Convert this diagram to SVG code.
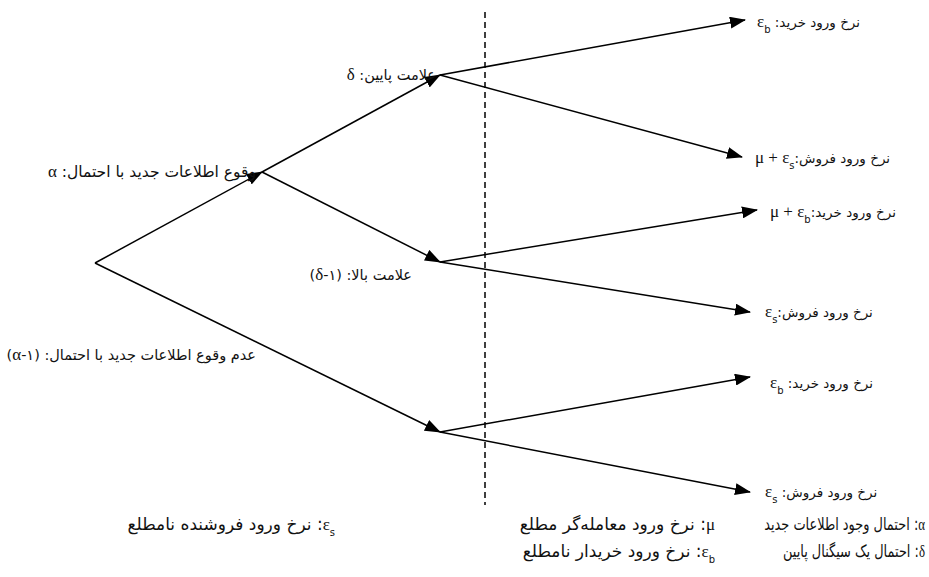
<svg xmlns="http://www.w3.org/2000/svg" width="929" height="577" viewBox="0 0 929 577">
<style>
  .ln { stroke: #000; stroke-width: 1.5; fill: none; }
  .dash { stroke: #000; stroke-width: 1.5; stroke-dasharray: 6 4; fill: none; }
  text { font-family: "DejaVu Sans", "Liberation Serif", serif; fill: #111; direction: rtl; }
  .lbl { font-size: 13.5px; }
  .big { font-size: 14.5px; }
  .leg { font-size: 17px; }
  .sub { font-size: 10px; baseline-shift: sub; }
  .g { font-family: "Liberation Serif", serif; font-size: 17px; }
</style>
<defs>
  <marker id="ah" markerWidth="16" markerHeight="12" refX="15" refY="6" orient="auto" markerUnits="userSpaceOnUse">
    <path d="M0,0 L16,6 L0,12 Z" fill="#000"/>
  </marker>
</defs>
<rect width="929" height="577" fill="#fff"/>
<g id="connectors">
  <line class="dash" x1="485" y1="12" x2="485" y2="505"/>
  <line class="ln" x1="95" y1="263" x2="262" y2="172" marker-end="url(#ah)"/>
  <line class="ln" x1="95" y1="263" x2="440" y2="432" marker-end="url(#ah)"/>
  <line class="ln" x1="262" y1="172" x2="440" y2="75" marker-end="url(#ah)"/>
  <line class="ln" x1="262" y1="172" x2="440" y2="262" marker-end="url(#ah)"/>
  <line class="ln" x1="440" y1="75" x2="745" y2="20" marker-end="url(#ah)"/>
  <line class="ln" x1="440" y1="75" x2="742" y2="157" marker-end="url(#ah)"/>
  <line class="ln" x1="440" y1="262" x2="757" y2="210" marker-end="url(#ah)"/>
  <line class="ln" x1="440" y1="262" x2="750" y2="312" marker-end="url(#ah)"/>
  <line class="ln" x1="440" y1="432" x2="750" y2="377" marker-end="url(#ah)"/>
  <line class="ln" x1="440" y1="432" x2="750" y2="492" marker-end="url(#ah)"/>
</g>
<g id="node-news">
  <text class="big" x="256" y="177" text-anchor="start" style="font-size:15.5px">وقوع اطلاعات جدید با احتمال: <tspan class="g">α</tspan></text>
</g>
<g id="node-nonews">
  <text class="big" x="256" y="360" text-anchor="start">عدم وقوع اطلاعات جدید با احتمال: (۱-<tspan class="g">α</tspan>)</text>
</g>
<g id="node-low">
  <text class="big" x="436" y="80" text-anchor="start">علامت پایین: <tspan class="g">δ</tspan></text>
</g>
<g id="node-high">
  <text class="big" x="412" y="280" text-anchor="start">علامت بالا: (۱-<tspan class="g">δ</tspan>)</text>
</g>
<g id="leaf1">
  <text class="lbl" x="757" y="27" text-anchor="end">نرخ ورود خرید: <tspan class="g">ε</tspan><tspan class="sub">b</tspan></text>
</g>
<g id="leaf2">
  <text class="lbl" x="755" y="163" text-anchor="end">نرخ ورود فروش:<tspan class="g">μ + ε</tspan><tspan class="sub">s</tspan></text>
</g>
<g id="leaf3">
  <text class="lbl" x="770" y="217" text-anchor="end">نرخ ورود خرید:<tspan class="g">μ + ε</tspan><tspan class="sub">b</tspan></text>
</g>
<g id="leaf4">
  <text class="lbl" x="765" y="317" text-anchor="end">نرخ ورود فروش:<tspan class="g">ε</tspan><tspan class="sub">s</tspan></text>
</g>
<g id="leaf5">
  <text class="lbl" x="770" y="388" text-anchor="end">نرخ ورود خرید: <tspan class="g">ε</tspan><tspan class="sub">b</tspan></text>
</g>
<g id="leaf6">
  <text class="lbl" x="765" y="497" text-anchor="end">نرخ ورود فروش: <tspan class="g">ε</tspan><tspan class="sub">s</tspan></text>
</g>
<g id="legend">
  <g transform="translate(925,0) scale(0.76,1)">
    <text class="leg" x="0" y="530" text-anchor="start"><tspan class="g">α</tspan>: احتمال وجود اطلاعات جدید</text>
    <text class="leg" x="0" y="557" text-anchor="start"><tspan class="g">δ</tspan>: احتمال یک سیگنال پایین</text>
  </g>
  <text class="leg" x="715" y="530" text-anchor="start"><tspan class="g">μ</tspan>: نرخ ورود معامله‌گر مطلع</text>
  <text class="leg" x="715" y="557" text-anchor="start"><tspan class="g">ε</tspan><tspan class="sub">b</tspan>: نرخ ورود خریدار نامطلع</text>
  <text class="leg" x="335" y="530" text-anchor="start"><tspan class="g">ε</tspan><tspan class="sub">s</tspan>: نرخ ورود فروشنده نامطلع</text>
</g>
</svg>
